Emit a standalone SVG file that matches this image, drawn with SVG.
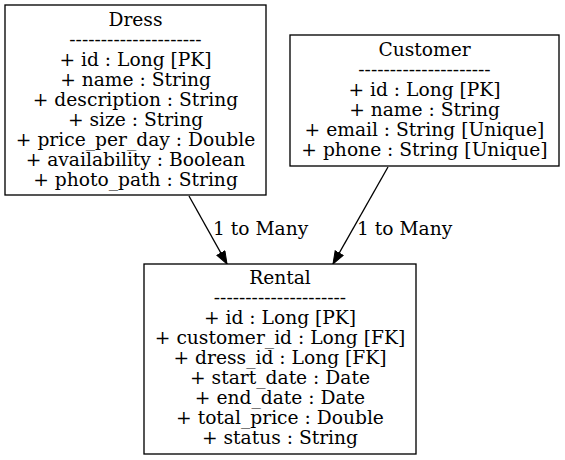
<svg xmlns="http://www.w3.org/2000/svg" width="565" height="460" viewBox="0 0 565 460">
<style>
.box{fill:#fff;stroke:#000;stroke-width:1.33}
text{font-family:"DejaVu Serif","Liberation Serif",serif;font-size:18.67px;fill:#000}
.c{text-anchor:middle}
.edge{stroke:#000;stroke-width:1.33;fill:none}
</style>
<defs>
<marker id="ah" markerUnits="userSpaceOnUse" markerWidth="15" markerHeight="11" refX="13" refY="5" orient="auto">
<path d="M0.5,0.4 L13,5 L0.5,9.6 Z" fill="#000" stroke="#000" stroke-width="1"/>
</marker>
</defs>
<rect width="565" height="460" fill="#fff"/>
<g id="connectors">
<line class="edge" x1="189" y1="196" x2="227" y2="264" marker-end="url(#ah)"/>
<line class="edge" x1="388" y1="167" x2="333" y2="264" marker-end="url(#ah)"/>
<text x="213" y="235">1 to Many</text>
<text x="357" y="235">1 to Many</text>
</g>
<g id="Dress">
<rect class="box" x="5" y="5" width="261" height="190"/>
<text class="c" x="135.5" y="26">Dress</text>
<text class="c" x="135.5" y="46">---------------------</text>
<text class="c" x="135.5" y="66">+ id : Long [PK]</text>
<text class="c" x="135.5" y="86">+ name : String</text>
<text class="c" x="135.5" y="106">+ description : String</text>
<text class="c" x="135.5" y="126">+ size : String</text>
<text class="c" x="135.5" y="146">+ price_per_day : Double</text>
<text class="c" x="135.5" y="166">+ availability : Boolean</text>
<text class="c" x="135.5" y="186">+ photo_path : String</text>
</g>
<g id="Customer">
<rect class="box" x="290" y="35" width="269" height="131"/>
<text class="c" x="424.5" y="56">Customer</text>
<text class="c" x="424.5" y="76">---------------------</text>
<text class="c" x="424.5" y="96">+ id : Long [PK]</text>
<text class="c" x="424.5" y="116">+ name : String</text>
<text class="c" x="424.5" y="136">+ email : String [Unique]</text>
<text class="c" x="424.5" y="156">+ phone : String [Unique]</text>
</g>
<g id="Rental">
<rect class="box" x="144" y="264" width="272" height="190"/>
<text class="c" x="280" y="284">Rental</text>
<text class="c" x="280" y="304">---------------------</text>
<text class="c" x="280" y="324">+ id : Long [PK]</text>
<text class="c" x="280" y="344">+ customer_id : Long [FK]</text>
<text class="c" x="280" y="364">+ dress_id : Long [FK]</text>
<text class="c" x="280" y="384">+ start_date : Date</text>
<text class="c" x="280" y="404">+ end_date : Date</text>
<text class="c" x="280" y="424">+ total_price : Double</text>
<text class="c" x="280" y="444">+ status : String</text>
</g>
</svg>
